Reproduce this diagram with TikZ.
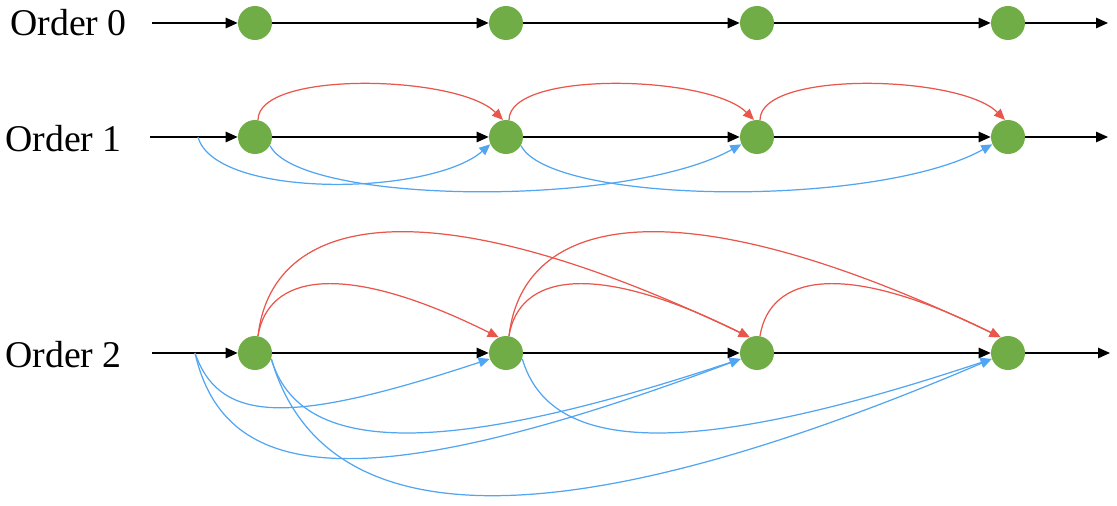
\documentclass[tikz,border=0pt]{standalone}
\usepackage{fontspec}
\setmainfont{Liberation Serif}
\usetikzlibrary{arrows.meta}
\definecolor{green}{RGB}{112,173,71}
\definecolor{red}{RGB}{232,86,76}
\definecolor{blue}{RGB}{82,165,240}

\begin{document}
\begin{tikzpicture}[x=0.02cm,y=-0.02cm,>={Triangle[length=0.24cm,width=0.21cm]},
  state/.style={circle,fill=green,minimum size=0.68cm,inner sep=0pt},
  flow/.style={->,line width=0.7pt},
  fwd/.style={-{Triangle[length=0.22cm,width=0.19cm]},red,line width=0.7pt},
  skip/.style={-{Triangle[length=0.22cm,width=0.19cm]},blue,line width=0.7pt},
  lbl/.style={anchor=west,inner sep=0pt,font=\fontsize{21.5}{25}\selectfont}]
\useasboundingbox (0,0) rectangle (1117,506);
% order 0
\node[lbl] (t0) at (10,23) {Order 0};
\coordinate (s0) at (152,23); \coordinate (e0) at (1108,23);
\node[state] (n01) at (255,23) {}; \node[state] (n02) at (506,23) {};
\node[state] (n03) at (757,23) {}; \node[state] (n04) at (1008,23) {};
\draw[flow] (s0)--(n01); \draw[flow] (n01)--(n02); \draw[flow] (n02)--(n03);
\draw[flow] (n03)--(n04); \draw[flow] (n04)--(e0);
% order 1
\node[lbl] (t1) at (5,139) {Order 1};
\coordinate (s1) at (150,137); \coordinate (b1) at (198,137); \coordinate (e1) at (1108,137);
\node[state] (n11) at (255,137) {}; \node[state] (n12) at (506,137) {};
\node[state] (n13) at (757,137) {}; \node[state] (n14) at (1008,137) {};
\draw[flow] (s1)--(n11); \draw[flow] (n11)--(n12); \draw[flow] (n12)--(n13);
\draw[flow] (n13)--(n14); \draw[flow] (n14)--(e1);
\draw[fwd] (n11.80) .. controls +(0,-50) and +(-45,-45) .. (n12.100);
\draw[fwd] (n12.80) .. controls +(0,-50) and +(-45,-45) .. (n13.100);
\draw[fwd] (n13.80) .. controls +(0,-50) and +(-45,-45) .. (n14.100);
\draw[skip] (b1) .. controls +(17,62) and +(-60,52) .. (n12.205);
\draw[skip] (n11.-30) .. controls +(30,59) and +(-115,64) .. (n13.205);
\draw[skip] (n12.-30) .. controls +(30,59) and +(-115,64) .. (n14.205);
% order 2
\node[lbl] (t2) at (5,355) {Order 2};
\coordinate (s2) at (152,353); \coordinate (b2) at (195,353); \coordinate (e2) at (1110,353);
\node[state] (n21) at (255,353) {}; \node[state] (n22) at (506,353) {};
\node[state] (n23) at (757,353) {}; \node[state] (n24) at (1008,353) {};
\draw[flow] (s2)--(n21); \draw[flow] (n21)--(n22); \draw[flow] (n22)--(n23);
\draw[flow] (n23)--(n24); \draw[flow] (n24)--(e2);
\draw[fwd] (n21.80) .. controls +(10,-61) and +(-157,-78) .. (n22.115);
\draw[fwd] (n22.80) .. controls +(10,-61) and +(-157,-78) .. (n23.115);
\draw[fwd] (n23.80) .. controls +(10,-61) and +(-157,-78) .. (n24.115);
\draw[fwd] (n21.80) .. controls +(14,-121) and +(-325,-156) .. (n23.115);
\draw[fwd] (n22.80) .. controls +(14,-121) and +(-325,-156) .. (n24.115);
\draw[skip] (b2) .. controls +(25,72) and +(-197,65) .. (n22.200);
\draw[skip] (b2) .. controls +(30,132) and +(-375,140) .. (n23.200);
\draw[skip] (n21.-20) .. controls +(27,91) and +(-315,105) .. (n23.200);
\draw[skip] (n22.-20) .. controls +(27,91) and +(-315,105) .. (n24.200);
\draw[skip] (n21.-20) .. controls +(47,161) and +(-472,201) .. (n24.200);
\end{tikzpicture}
\end{document}
